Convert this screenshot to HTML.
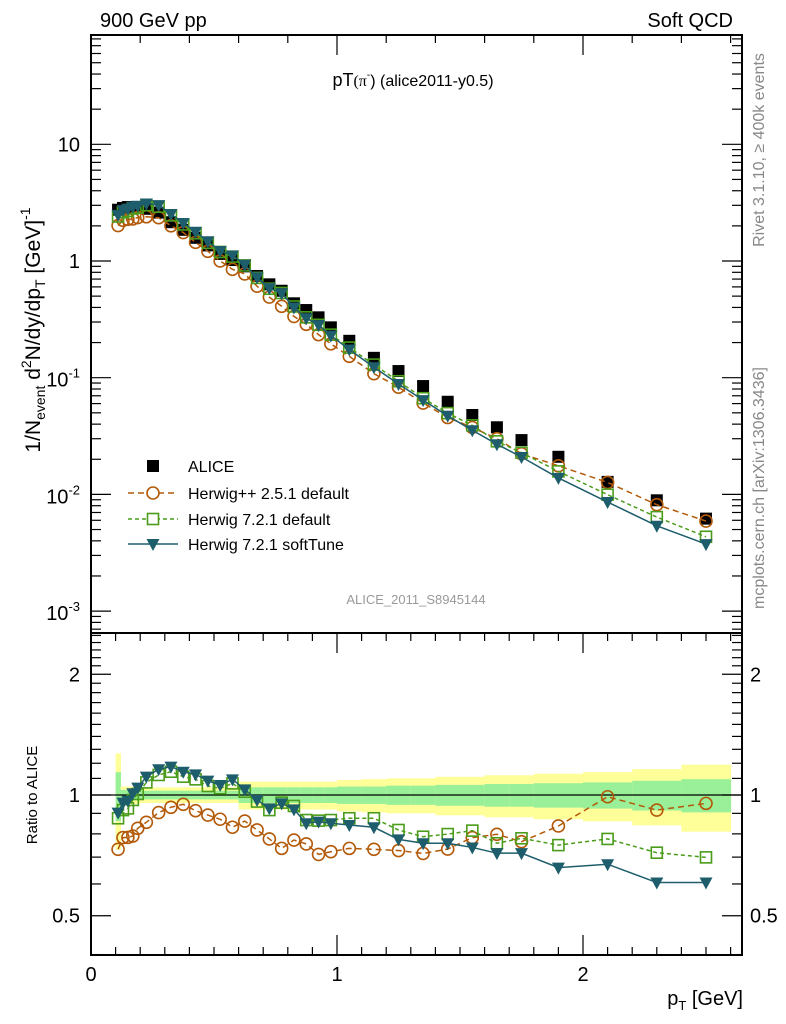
<!DOCTYPE html>
<html><head><meta charset="utf-8"><style>
body{margin:0;background:#fff}
svg{display:block;font-family:"Liberation Sans",sans-serif}
</style></head><body>
<svg id="c" width="786" height="1024" viewBox="0 0 786 1024"></svg>
<script>
const centers=[0.11,0.13,0.15,0.17,0.19,0.225,0.275,0.325,0.375,0.425,0.475,0.525,0.575,0.625,0.675,0.725,0.775,0.825,0.875,0.925,0.975,1.05,1.15,1.25,1.35,1.45,1.55,1.65,1.75,1.9,2.1,2.3,2.5];
const edges=[0.1,0.12,0.14,0.16,0.18,0.2,0.25,0.3,0.35,0.4,0.45,0.5,0.55,0.6,0.65,0.7,0.75,0.8,0.85,0.9,0.95,1.0,1.1,1.2,1.3,1.4,1.5,1.6,1.7,1.8,2.0,2.2,2.4,2.6];
const alice=[2.75,2.85,2.9,2.9,2.85,2.8,2.6,2.15,1.85,1.58,1.36,1.15,1.02,0.9,0.744,0.631,0.556,0.434,0.38,0.329,0.27,0.207,0.148,0.114,0.0848,0.0622,0.0479,0.0376,0.0292,0.021,0.0128,0.0089,0.0062];
const ratioHpp=[0.732,0.783,0.784,0.79,0.826,0.855,0.904,0.932,0.948,0.914,0.891,0.87,0.831,0.861,0.818,0.777,0.736,0.772,0.755,0.711,0.722,0.736,0.732,0.727,0.715,0.733,0.783,0.798,0.765,0.837,0.99,0.917,0.953];
const ratioH7=[0.875,0.917,0.926,0.972,1.006,1.075,1.122,1.143,1.111,1.094,1.053,1.039,1.069,1.019,0.963,0.917,0.957,0.939,0.866,0.863,0.866,0.875,0.875,0.818,0.787,0.799,0.815,0.758,0.78,0.75,0.777,0.718,0.699];
const ratioSoft=[0.904,0.957,0.968,1.01,1.043,1.111,1.159,1.177,1.143,1.126,1.086,1.059,1.094,1.033,0.972,0.926,0.953,0.921,0.85,0.858,0.85,0.842,0.831,0.775,0.758,0.758,0.74,0.716,0.716,0.659,0.672,0.605,0.605];
const bandTot=[0.27,0.05,0.05,0.05,0.05,0.045,0.045,0.045,0.045,0.045,0.045,0.045,0.045,0.08,0.08,0.08,0.08,0.08,0.08,0.08,0.08,0.09,0.095,0.1,0.1,0.11,0.11,0.12,0.12,0.13,0.14,0.16,0.19];
const bandStat=[0.14,0.03,0.03,0.03,0.03,0.025,0.025,0.025,0.025,0.025,0.025,0.025,0.025,0.045,0.045,0.045,0.045,0.045,0.045,0.045,0.045,0.05,0.05,0.055,0.055,0.06,0.06,0.065,0.065,0.07,0.075,0.085,0.095];
const xTickLabels=["0","1","2"];

const NS="http://www.w3.org/2000/svg";
const svg=document.getElementById('c');
const L=91,R=742,T=35,MB=633,RB=955;
const X=v=>L+v*246;
const YM=v=>261-116.7*Math.log10(v);
const YR=v=>795-401*Math.log10(v);
function el(tag,a,parent){const e=document.createElementNS(NS,tag);for(const k in a)e.setAttribute(k,a[k]);(parent||svg).appendChild(e);return e;}
function txt(s,a,parent){const e=el('text',a,parent);e.innerHTML=s;return e;}

const gB=el('g',{});


for(let i=0;i<centers.length;i++){
  const x0=X(edges[i]),x1=X(edges[i+1]);
  const y=el('rect',{x:x0,y:YR(1+bandTot[i]),width:x1-x0+0.5,height:YR(1-bandTot[i])-YR(1+bandTot[i]),fill:'#ffff99'},gB);
  
  
  const g=el('rect',{x:x0,y:YR(1+bandStat[i]),width:x1-x0+0.5,height:YR(1-bandStat[i])-YR(1+bandStat[i]),fill:'#99f099'},gB);
  
  
}
el('line',{x1:L,x2:R,y1:YR(1),y2:YR(1),stroke:'#000','stroke-width':1.3});

const fr=el('g',{stroke:'#000','stroke-width':2,fill:'none'});


el('rect',{x:L,y:T,width:R-L,height:MB-T},fr);
el('rect',{x:L,y:MB,width:R-L,height:RB-MB},fr);

const tk=el('g',{stroke:'#000','stroke-width':1.2});
for(let d=-4;d<=2;d++){for(let m=1;m<10;m++){const v=m*Math.pow(10,d);const y=YM(v);if(y<T||y>MB)continue;const len=m==1?20:10;
 el('line',{x1:L,x2:L+len,y1:y,y2:y},tk);el('line',{x1:R,x2:R-len,y1:y,y2:y},tk);}}
for(let k=4;k<=25;k++){const v=k/10;const y=YR(v);if(y<MB||y>RB)continue;const len=(k==5||k==10||k==20)?20:10;
 el('line',{x1:L,x2:L+len,y1:y,y2:y},tk);el('line',{x1:R,x2:R-len,y1:y,y2:y},tk);}
for(let k=0;k<=26;k++){const x=X(k/10);const maj=k%10==0;
 el('line',{x1:x,x2:x,y1:RB,y2:RB-(maj?20:8)},tk);el('line',{x1:x,x2:x,y1:MB,y2:MB+(maj?20:8)},tk);
 if(k%2==0){el('line',{x1:x,x2:x,y1:T,y2:T+(maj?20:8)},tk);}}

const lab=el('g',{'font-size':20,fill:'#000'});
[["10",10],["1",1]].forEach(([s,v])=>{txt(s,{x:80,y:YM(v)+7,'text-anchor':'end'},lab);});
[[-1,0.1],[-2,0.01],[-3,0.001]].forEach(([p,v])=>{txt('10<tspan font-size="13" dy="-9">'+p+'</tspan>',{x:80,y:YM(v)+9,'text-anchor':'end'},lab);});
[["2",2],["1",1],["0.5",0.5]].forEach(([s,v])=>{txt(s,{x:80,y:YR(v)+7,'text-anchor':'end'},lab);txt(s,{x:750,y:YR(v)+7},lab);});
xTickLabels.forEach((s,i)=>{txt(s,{x:X(i),y:981,'text-anchor':'middle'},lab);});

function series(vals,name,color,dash,marker,width){
  const g=el('g',{});
  
  
  if(color){el('polyline',{points:vals.map(v=>v.x+','+v.y).join(' '),fill:'none',stroke:color,'stroke-width':width||1.5,'stroke-dasharray':dash||'none'},g);}
  vals.forEach(v=>{let m;
    if(marker=='circle'){m=el('circle',{cx:v.x,cy:v.y,r:6,fill:'none',stroke:color,'stroke-width':1.6},g);}
    else if(marker=='square'){m=el('rect',{x:v.x-5.5,y:v.y-5.5,width:11,height:11,fill:'none',stroke:color,'stroke-width':1.6},g);}
    else if(marker=='tri'){m=el('polygon',{points:(v.x-6.5)+','+(v.y-5)+' '+(v.x+6.5)+','+(v.y-5)+' '+v.x+','+(v.y+7)},g);m.setAttribute('fill',color);}
    else {m=el('rect',{x:v.x-6,y:v.y-6,width:12,height:12,fill:'#000'},g);}
    
    
  });
}
const cH='#b35a0a',cG='#4a9c1a',cT='#1d5d6c';
series(centers.map((c,i)=>({x:X(c),y:YM(alice[i])})),'alice-data',null,null,'box');
series(centers.map((c,i)=>({x:X(c),y:YM(alice[i]*ratioHpp[i])})),'herwigpp-251-main',cH,'6,4','circle');
series(centers.map((c,i)=>({x:X(c),y:YM(alice[i]*ratioH7[i])})),'herwig-721-main',cG,'4,3','square');
series(centers.map((c,i)=>({x:X(c),y:YM(alice[i]*ratioSoft[i])})),'herwig-721-softtune-main',cT,null,'tri');
series(centers.map((c,i)=>({x:X(c),y:YR(ratioHpp[i])})),'herwigpp-251-ratio',cH,'6,4','circle');
series(centers.map((c,i)=>({x:X(c),y:YR(ratioH7[i])})),'herwig-721-ratio',cG,'4,3','square');
series(centers.map((c,i)=>({x:X(c),y:YR(ratioSoft[i])})),'herwig-721-softtune-ratio',cT,null,'tri');

const lg=el('g',{'font-size':16});


const rows=[['ALICE',null,null,'box',466],['Herwig++ 2.5.1 default',cH,'6,4','circle',493],['Herwig 7.2.1 default',cG,'4,3','square',519],['Herwig 7.2.1 softTune',cT,null,'tri',544]];
rows.forEach(r=>{const g=el('g',{},lg);
  
  
  const x=153,y=r[4];
  if(r[1])el('line',{x1:128,x2:178,y1:y,y2:y,stroke:r[1],'stroke-width':1.5,'stroke-dasharray':r[2]||'none'},g);
  if(r[3]=='box')el('rect',{x:x-6,y:y-6,width:12,height:12,fill:'#000'},g);
  if(r[3]=='circle')el('circle',{cx:x,cy:y,r:6,fill:'#fff',stroke:r[1],'stroke-width':1.6},g);
  if(r[3]=='square')el('rect',{x:x-5.5,y:y-5.5,width:11,height:11,fill:'#fff',stroke:r[1],'stroke-width':1.6},g);
  if(r[3]=='tri')el('polygon',{points:(x-6.5)+','+(y-5)+' '+(x+6.5)+','+(y-5)+' '+x+','+(y+7),fill:r[1]},g);
  txt(r[0],{x:188,y:y+6},g);
});
</script>
<div style="position:absolute;left:0;top:0;width:786px;height:1024px;pointer-events:none">
<svg width="786" height="1024" style="position:absolute;left:0;top:0" font-family="Liberation Sans, sans-serif">
<text x="100" y="27" font-size="20">900 GeV pp</text>
<text x="733" y="27" font-size="20" text-anchor="end">Soft QCD</text>
<text x="413" y="86" font-size="18" text-anchor="middle">pT<tspan font-family="Liberation Serif, serif" font-size="16">(π</tspan><tspan font-size="10" dy="-8">-</tspan><tspan dy="8" font-size="16">)</tspan><tspan font-size="16"> (alice2011-y0.5)</tspan></text>
<text x="416" y="604" font-size="13" fill="#999" text-anchor="middle">ALICE_2011_S8945144</text>
<text transform="translate(40,330) rotate(-90)" font-size="21" text-anchor="middle">1/N<tspan font-size="14" dy="5">event</tspan><tspan dy="-5"> d</tspan><tspan font-size="14" dy="-9">2</tspan><tspan dy="9">N/dy/dp</tspan><tspan font-size="14" dy="5">T</tspan><tspan dy="-5"> [GeV]</tspan><tspan font-size="14" dy="-10">-1</tspan></text>
<text transform="translate(37,795) rotate(-90)" font-size="15" text-anchor="middle">Ratio to ALICE</text>
<text x="743" y="1005" font-size="20" text-anchor="end">p<tspan font-size="13" dy="5">T</tspan><tspan dy="-5"> [GeV]</tspan></text>
<text transform="translate(764,150) rotate(-90)" font-size="16" fill="#888" text-anchor="middle">Rivet 3.1.10, ≥ 400k events</text>
<text transform="translate(764,488) rotate(-90)" font-size="16" fill="#888" text-anchor="middle">mcplots.cern.ch [arXiv:1306.3436]</text>
</svg></div>
</body></html>
